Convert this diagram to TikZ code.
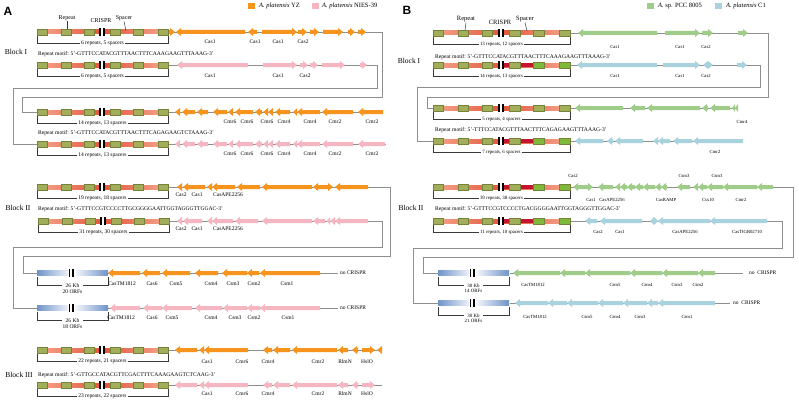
\documentclass[tikz,border=0pt]{standalone}
\usepackage{fontspec}
\setmainfont{Liberation Serif}
\setsansfont{Liberation Sans}
\usetikzlibrary{calc}
\definecolor{yz}{HTML}{F7941D}
\definecolor{nies}{HTML}{F5B6C1}
\definecolor{pcc}{HTML}{A0CC8A}
\definecolor{cone}{HTML}{A8D2DE}
\definecolor{rpt}{HTML}{A2AE5A}
\definecolor{rptdk}{HTML}{76823A}
\definecolor{rptlime}{HTML}{7DBA3C}
\definecolor{salmon}{HTML}{F6A68E}
\definecolor{spc}{HTML}{E0563A}
\definecolor{crim}{HTML}{C41430}
\definecolor{isl}{HTML}{6F93C8}
\definecolor{wire}{HTML}{8E8E8E}
\definecolor{ink}{HTML}{3A3A3A}
\newcommand{\fs}[1]{\fontsize{#1}{#1}\selectfont}
\newcounter{nd}
\newcommand{\lbl}[3]{\stepcounter{nd}\node[glab] (g\thend) at (#1,#2) {#3};}
% gene arrows: tip/tail, tail/tip, row, colour
\newcommand{\gl}[4]{\fill[#4] (#1,#3) -- ({min(#1+5,#2)},#3-4) -- ({min(#1+5,#2)},#3-2) -- (#2,#3-2) -- (#2,#3+2) -- ({min(#1+5,#2)},#3+2) -- ({min(#1+5,#2)},#3+4) -- cycle;}
\newcommand{\gr}[4]{\fill[#4] (#2,#3) -- ({max(#2-5,#1)},#3-4) -- ({max(#2-5,#1)},#3-2) -- (#1,#3-2) -- (#1,#3+2) -- ({max(#2-5,#1)},#3+2) -- ({max(#2-5,#1)},#3+4) -- cycle;}
% CRISPR array: scope options, bracket text, middle spacer, last repeats
\newcommand{\crispr}[4]{%
  \begin{scope}[#1]
    \shade[left color=salmon,right color=salmon,middle color=spc] (0,-2) rectangle (131,2);
    \path[fill=#3] (68,-2) rectangle (96,2);
    \foreach \bx in {0,24,47,73} {\filldraw[rbox] (\bx,-2.7) rectangle ++(10,5.4);}
    \foreach \bx in {96,121} {\filldraw[rbox,fill=#4] (\bx,-2.7) rectangle ++(10,5.4);}
    \fill[white] (62,-4.6) rectangle (68,4.6);
    \fill (62.4,-4.2) rectangle ++(1.7,8.4);
    \fill (65.9,-4.2) rectangle ++(1.7,8.4);
    \draw[brk] (0,4) -- (0,11) -- (131,11) -- (131,4);
    \stepcounter{nd}\node[brklbl] (b\thend) at (65.5,11) {#2};
  \end{scope}}
% island without CRISPR: scope options, length, ORFs
\newcommand{\island}[3]{%
  \begin{scope}[#1]
    \shade[left color=isl,right color=isl,middle color=white] (0,-2.6) rectangle (71,2.6);
    \fill[white] (31,-4.6) rectangle (37.5,4.6);
    \fill (31.5,-4.2) rectangle ++(1.7,8.4);
    \fill (35.3,-4.2) rectangle ++(1.7,8.4);
    \draw[brk] (0,4) -- (0,12.5) -- (71,12.5) -- (71,4);
    \stepcounter{nd}\node[brklbl,align=center] (i\thend) at (35.5,15.5) {#2\\#3};
  \end{scope}}
\tikzset{
  glab/.style   ={font=\fs{5.5}, inner sep=0pt},
  brklbl/.style ={font=\fs{5.5}, fill=white, inner sep=1pt},
  motif/.style  ={font=\fs{5.6}, anchor=west, inner sep=0pt},
  blk/.style    ={font=\fs{7.5}, inner sep=0pt},
  leg/.style    ={font=\fs{6.5}, anchor=west, inner sep=0pt},
  panel/.style  ={font=\sffamily\bfseries\fs{12}, inner sep=0pt},
  toplbl/.style ={font=\fs{6}, inner sep=.5pt},
  rbox/.style   ={fill=rpt, draw=rptdk, line width=.3pt},
  brk/.style    ={draw=ink, line width=.7pt},
  bb/.style     ={draw=wire, line width=.6pt},
  link/.style   ={draw=wire, line width=.6pt},
  tick/.style   ={draw=ink, line width=.5pt},
}

\begin{document}
\begin{tikzpicture}[x=1pt,y=-1pt]
  \fill[white] (0,0) rectangle (799,404);
  \useasboundingbox (0,0) rectangle (799,404);

  % ---------------- panel A ----------------
  \node[panel] (pa) at (8,11) {A};
  \fill[yz] (248,3) rectangle (255,9);
  \node[leg] (lga) at (259,6) {\textit{A. platensis} YZ};
  \fill[nies] (312,3) rectangle (319,9);
  \node[leg] (lgb) at (322,6) {\textit{A. platensis} NIES-39};

  \node[toplbl] (repa) at (67,18) {Repeat};
  \node[toplbl] (cra) at (101,21) {CRISPR};
  \node[toplbl] (spa) at (124,18) {Spacer};
  \node[blk] (blka1) at (16,52) {Block I};
  \node[blk] (blka2) at (18,208) {Block II};
  \node[blk] (blka3) at (19,375) {Block III};
  \node[motif] (moa1) at (38,54) {Repeat motif: 5'-GTTTCCATACGTTTAACTTTCAAAGAAGTTTAAAG-3'};
  \node[motif] (moa2) at (38,133) {Repeat motif: 5'-GTTTCCATACGTTTAACTTTCAGAGAAGTCTAAAG-3'};
  \node[motif] (moa3) at (38,209) {Repeat motif: 5'-GTTTCCGTCCCCTTGCGGGGAATTGGTAGGGTTGGAC-3'};
  \node[motif] (moa4) at (38,375) {Repeat motif: 5'-GTTGCCATACGTTCGACTTTCAAAGAAGTCTCAAG-3'};

  \coordinate (a1e) at (382,32);  \coordinate (a2e) at (377,65);
  \coordinate (a3s) at (37,112);  \coordinate (a4s) at (37,144);
  \coordinate (a5e) at (390,187); \coordinate (a6e) at (382,221);
  \coordinate (a7s) at (37,273);  \coordinate (a8s) at (37,308);
  \coordinate (ka1) at (22,97);   \coordinate (ka2) at (13,88);
  \coordinate (ka5) at (23,256);  \coordinate (ka6) at (13,247);

  \draw[bb] (168,32) -- (a1e);
  \draw[bb] (168,65) -- (a2e);
  \draw[bb] (168,112) -- (383,112);
  \draw[bb] (168,144) -- (386,144);
  \draw[bb] (168,187) -- (a5e);
  \draw[bb] (168,221) -- (a6e);
  \draw[bb] (108,273) -- (338,273);
  \draw[bb] (108,308) -- (338,308);
  \draw[bb] (168,350) -- (382,350);
  \draw[bb] (168,385) -- (382,385);
  \draw[link] (a1e) |- (ka1) |- (a3s);
  \draw[link] (a2e) |- (ka2) |- (a4s);
  \draw[link] (a5e) |- (ka5) |- (a7s);
  \draw[link] (a6e) |- (ka6) |- (a8s);

  \crispr{shift={(37,32)}}{6 repeats, 5 spacers}{none}{rpt}
  \crispr{shift={(37,65)}}{6 repeats, 5 spacers}{none}{rpt}
  \crispr{shift={(37,112)}}{14 repeats, 13 spacers}{none}{rpt}
  \crispr{shift={(37,144)}}{14 repeats, 13 spacers}{none}{rpt}
  \crispr{shift={(37,187)}}{19 repeats, 18 spacers}{none}{rpt}
  \crispr{shift={(38,221)}}{31 repeats, 30 spacers}{none}{rpt}
  \crispr{shift={(37,350)}}{22 repeats, 21 spacers}{none}{rpt}
  \crispr{shift={(37,385)}}{23 repeats, 22 spacers}{none}{rpt}
  \island{shift={(37,273)}}{26 Kb}{20 ORFs}
  \island{shift={(37,308)}}{26 Kb}{18 ORFs}
  \draw[tick] (repa.south) -- (67,29.3);
  \draw[tick] (spa.south) -- (126,31);

  % block I genes
  \gr{169}{175}{32}{yz} \gl{176}{245}{32}{yz} \gl{248}{257}{32}{yz}
  \foreach \t/\e in {262/297,298/307,310/319,323/343,348/355,358/366} {\gr{\t}{\e}{32}{yz}}
  \gl{177}{248}{65}{nies}
  \foreach \t/\e in {263/297,300/308,310/318,322/345,360/367} {\gr{\t}{\e}{65}{nies}}
  \foreach \t/\e in {175/180,182/195,197/208,213/227,228/233,235/253,255/262,263/268,268/273,275/290,293/297,297/320,322/353,358/383} {\gl{\t}{\e}{112}{yz}}
  \foreach \t/\e in {175/180,182/195,197/208,213/227,228/233,235/253,255/262,263/268,268/273,275/290,293/297,297/320,322/353,358/385} {\gl{\t}{\e}{144}{nies}}
  \lbl{210}{42}{Cas1} \lbl{255}{42}{Cas1} \lbl{278}{42}{Cas1} \lbl{303}{42}{Cas2}
  \lbl{210}{76}{Cas1} \lbl{278}{76}{Cas1} \lbl{305}{76}{Cas2}
  \foreach \y in {122,154} {
    \lbl{230}{\y}{Cmr6} \lbl{247}{\y}{Cmr6} \lbl{267}{\y}{Cmr6} \lbl{284}{\y}{Cmr4}
    \lbl{310}{\y}{Cmr4} \lbl{335}{\y}{Cmr2} \lbl{372}{\y}{Cmr2}
  }

  % block II genes
  \foreach \t/\e in {177/182,183/205,207/212,212/235,237/260,262/312,313/322,335/368} {\gl{\t}{\e}{187}{yz}}
  \gr{322}{333}{187}{yz}
  \foreach \t/\e in {177/182,183/202,207/212,212/233,235/258,262/312,313/325,327/330,330/335,335/368} {\gl{\t}{\e}{221}{nies}}
  \foreach \y in {195,229} {\lbl{181}{\y}{Cas2} \lbl{197}{\y}{Cas1} \lbl{228}{\y}{CasAPE2256}}
  \foreach \t/\e in {108/140,142/160,162/190,195/218,222/247,247/259,260/320} {\gl{\t}{\e}{273}{yz}}
  \foreach \t/\e in {110/140,143/162,162/192,195/222,223/247,247/260,260/320} {\gl{\t}{\e}{308}{nies}}
  \lbl{122}{284}{CasTM1812} \lbl{152}{284}{Cas6} \lbl{176}{284}{Csm5} \lbl{211}{284}{Csm4}
  \lbl{233}{284}{Csm3} \lbl{254}{284}{Csm2} \lbl{287}{284}{Csm1}
  \lbl{121}{318}{CasTM1812} \lbl{152}{318}{Cas6} \lbl{172}{318}{Csm5} \lbl{211}{318}{Csm4}
  \lbl{235}{318}{Csm3} \lbl{254}{318}{Csm2} \lbl{288}{318}{Csm1}
  \node[glab,anchor=west] (nca1) at (340,273) {no CRISPR};
  \node[glab,anchor=west] (nca2) at (340,308) {no CRISPR};

  % block III genes
  \foreach \t/\e in {175/197,199/204,204/248,263/272,273/290,292/337,338/348,352/358,377/382} {\gl{\t}{\e}{350}{yz}}
  \gr{362}{375}{350}{yz}
  \foreach \t/\e in {175/197,199/204,204/248,263/272,273/290,292/337,338/348,352/358} {\gl{\t}{\e}{385}{nies}}
  \gr{362}{375}{385}{nies}
  \foreach \y in {362,394} {
    \lbl{207}{\y}{Cas1} \lbl{242}{\y}{Cmr6} \lbl{268}{\y}{Cmr4} \lbl{318}{\y}{Cmr2}
    \lbl{345}{\y}{RlmN} \lbl{367}{\y}{HslO}
  }

  % ---------------- panel B ----------------
  \begin{scope}[glab/.style={font=\fs{4.7}, inner sep=0pt},
                brklbl/.style={font=\fs{4.9}, fill=white, inner sep=1pt}]
  \node[panel] (pb) at (407,10) {B};
  \fill[pcc] (647,3) rectangle (654,9);
  \node[leg] (lgc) at (658,6) {\textit{A.} sp. PCC 8005};
  \fill[cone] (715,3) rectangle (722,9);
  \node[leg] (lgd) at (726,6) {\textit{A. platensis} C1};

  \node[toplbl,font=\fs{6.5}] (repb) at (466,19) {Repeat};
  \node[toplbl,font=\fs{6.5}] (crb) at (500,22) {CRISPR};
  \node[toplbl,font=\fs{6.5}] (spb) at (525,19) {Spacer};
  \node[blk] (blkb1) at (409,61) {Block I};
  \node[blk] (blkb2) at (411,208) {Block II};
  \node[motif] (mob1) at (435,57) {Repeat motif: 5'-GTTTCCATACGTTTAACTTTCAAAGAAGTTTAAAG-3'};
  \node[motif] (mob2) at (435,130) {Repeat motif: 5'-TTTCCATACGTTTAACTTTCAGAGAAGTTTAAAG-3'};
  \node[motif] (mob3) at (435,209) {Repeat motif: 5'-GTTTCCGTCCCCTGACGGGGAATTGGTAGGGTTGGAC-3'};

  \coordinate (b1e) at (768,33);  \coordinate (b2e) at (760,65);
  \coordinate (b3s) at (433,108); \coordinate (b4s) at (433,141);
  \coordinate (b5e) at (793,187); \coordinate (b6e) at (782,221);
  \coordinate (b7s) at (438,273); \coordinate (b8s) at (438,303);
  \coordinate (kb1) at (427,97);  \coordinate (kb2) at (417,87);
  \coordinate (kb5) at (423,257); \coordinate (kb6) at (413,248);

  \draw[bb] (570,33) -- (b1e);
  \draw[bb] (570,65) -- (b2e);
  \draw[bb] (570,108) -- (738,108);
  \draw[bb] (570,141) -- (743,141);
  \draw[bb] (570,187) -- (b5e);
  \draw[bb] (570,221) -- (b6e);
  \draw[bb] (510,273) -- (743,273);
  \draw[bb] (510,303) -- (730,303);
  \draw[link] (b1e) |- (kb1) |- (b3s);
  \draw[link] (b2e) |- (kb2) |- (b4s);
  \draw[link] (b5e) |- (kb5) |- (b7s);
  \draw[link] (b6e) |- (kb6) |- (b8s);

  \crispr{shift={(433,33)},xscale=1.046}{13 repeats, 12 spacers}{none}{rpt}
  \crispr{shift={(433,65)},xscale=1.046}{14 repeats, 13 spacers}{crim}{rptlime}
  \crispr{shift={(433,108)},xscale=1.046}{5 repeats, 4 spacers}{none}{rpt}
  \crispr{shift={(433,141)},xscale=1.046}{7 repeats, 6 spacers}{crim}{rptlime}
  \crispr{shift={(433,187)},xscale=1.046}{39 repeats, 38 spacers}{crim}{rptlime}
  \crispr{shift={(433,221)},xscale=1.046}{11 repeats, 10 spacers}{crim}{rptlime}
  \island{shift={(438,273)}}{30 Kb}{14 ORFs}
  \island{shift={(438,303)}}{30 Kb}{21 ORFs}
  \draw[tick] (repb.south) -- (465,30.3);
  \draw[tick] (spb.south) -- (527,31);

  % block I genes
  \gl{578}{657}{33}{pcc} \gr{665}{700}{33}{pcc} \gr{702}{713}{33}{pcc} \gr{738}{748}{33}{pcc}
  \gl{577}{657}{65}{cone} \gr{663}{700}{65}{cone} \gl{703}{708}{65}{cone} \gr{708}{713}{65}{cone} \gr{737}{747}{65}{cone}
  \foreach \y in {47,76} {\lbl{615}{\y}{Cas1} \lbl{680}{\y}{Cas1} \lbl{706}{\y}{Cas2}}
  \foreach \t/\e in {575/623,630/645,647/700,702/708,710/730,732/735,735/738} {\gl{\t}{\e}{108}{pcc}}
  \foreach \t/\e in {575/603,607/613,615/643,653/658,658/670,673/692,693/743} {\gl{\t}{\e}{141}{cone}}
  \lbl{742}{122}{Cmr4}
  \lbl{715}{152}{Cmr2}

  % block II genes
  \foreach \t/\e in {573/580,598/613,615/620,620/627,627/635,635/643,643/655,655/661,661/667,677/690,693/698,698/707,707/723,723/757,757/773} {\gl{\t}{\e}{187}{pcc}}
  \gr{580}{593}{187}{pcc}
  \lbl{573}{176}{Cas2} \lbl{684}{176}{Csm3} \lbl{717}{176}{Csm3}
  \lbl{591}{200}{Cas1} \lbl{612}{200}{CasAPE2256} \lbl{666}{200}{CasRAMP}
  \lbl{708}{200}{Csx10} \lbl{741}{200}{Cmr2}
  \foreach \t/\e in {585/597,600/642,650/654,658/710,710/767} {\gl{\t}{\e}{221}{cone}}
  \gr{654}{658}{221}{cone}
  \lbl{598}{232}{Cas2} \lbl{620}{232}{Cas1} \lbl{685}{232}{CasAPE2256} \lbl{747}{232}{CasTIGR02710}
  \foreach \t/\e in {513/560,560/585,585/630,630/662,662/698,698/715} {\gl{\t}{\e}{273}{pcc}}
  \foreach \t/\e in {515/548,548/567,567/598,598/623,623/647,647/658,658/715} {\gl{\t}{\e}{303}{cone}}
  \lbl{533}{285}{CasTM1812} \lbl{615}{285}{Csm5} \lbl{647}{285}{Csm4} \lbl{677}{285}{Csm3} \lbl{698}{285}{Csm2}
  \lbl{535}{317}{CasTM1812} \lbl{587}{317}{Csm5} \lbl{615}{317}{Csm4} \lbl{640}{317}{Csm3} \lbl{687}{317}{Csm1}
  \node[glab,anchor=west,font=\fs{5.5}] (ncb1) at (749,273) {no\enspace CRISPR};
  \node[glab,anchor=west,font=\fs{5.5}] (ncb2) at (733,303) {no\enspace CRISPR};
  \end{scope}
\end{tikzpicture}
\end{document}
